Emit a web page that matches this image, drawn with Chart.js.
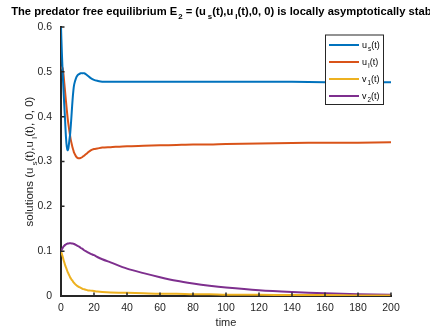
<!DOCTYPE html>
<html><head><meta charset="utf-8">
<script src="https://cdn.jsdelivr.net/npm/chart.js@4/dist/chart.umd.min.js"></script>
<style>html,body{margin:0;padding:0;background:#fff}#wrap{width:430px;height:331px;position:relative}</style>
</head><body><div id="wrap"><canvas id="c" width="430" height="331"></canvas></div>
<script>
const time = [0,0.5,1,1.5,2,2.5,3,3.5,4,4.5,5,5.5,6,6.5,7,7.5,8,9,10,11,12,13,14,15,16,18,20,22,25,30,40,50,60,70,80,90,100,120,140,160,180,200];
const us = [0.600,0.545,0.500,0.460,0.425,0.390,0.355,0.333,0.325,0.330,0.345,0.360,0.383,0.410,0.437,0.458,0.472,0.485,0.492,0.495,0.497,0.497,0.497,0.495,0.492,0.486,0.482,0.480,0.478,0.478,0.478,0.478,0.478,0.478,0.478,0.478,0.478,0.478,0.478,0.477,0.477,0.477];
const uI = [0.506,0.510,0.508,0.495,0.475,0.455,0.435,0.416,0.398,0.383,0.370,0.358,0.347,0.339,0.331,0.325,0.319,0.312,0.308,0.307,0.308,0.310,0.313,0.316,0.319,0.325,0.328,0.329,0.331,0.332,0.334,0.335,0.336,0.337,0.338,0.338,0.339,0.340,0.341,0.342,0.342,0.343];
const v1 = [0.100,0.094,0.088,0.081,0.075,0.069,0.064,0.059,0.054,0.050,0.046,0.042,0.039,0.036,0.034,0.031,0.029,0.025,0.022,0.020,0.018,0.016,0.015,0.014,0.013,0.012,0.011,0.010,0.009,0.008,0.007,0.006,0.005,0.005,0.004,0.004,0.003,0.003,0.002,0.002,0.001,0.001];
const v2 = [0.100,0.104,0.107,0.110,0.112,0.114,0.115,0.116,0.117,0.1172,0.1175,0.1175,0.1175,0.1173,0.117,0.1166,0.116,0.114,0.112,0.110,0.107,0.105,0.102,0.100,0.098,0.094,0.091,0.087,0.082,0.075,0.061,0.051,0.042,0.034,0.028,0.023,0.019,0.013,0.009,0.006,0.004,0.003];
const xTicks = [0,20,40,60,80,100,120,140,160,180,200];
const yTicks = [0,0.1,0.2,0.3,0.4,0.5,0.6];

const FONT = "'Liberation Sans', Arial, Helvetica, sans-serif";
const AX = '#262626';
const toPts = ys => time.map((t,i)=>({x:t,y:ys[i]}));

function richWidth(ctx, segs, size, bold){
  let w=0;
  for(const s of segs){ctx.font=(bold?'bold ':'')+(s.sub?size*0.7:size)+'px '+FONT; w+=ctx.measureText(s.t).width + (s.gap||0);}
  return w;
}
function drawRich(ctx, segs, x, y, size, bold){
  for(const s of segs){
    const fs = s.sub?size*0.7:size;
    ctx.font=(bold?'bold ':'')+fs+'px '+FONT;
    x += (s.gap||0);
    ctx.fillText(s.t, x, y + (s.sub? size*0.35:0));
    x += ctx.measureText(s.t).width;
  }
}

const deco = {
  id:'deco',
  afterDraw(chart){
    const ctx=chart.ctx, xs=chart.scales.x, ys=chart.scales.y, ca=chart.chartArea;
    ctx.save();
    ctx.strokeStyle=AX; ctx.lineWidth=1.5;
    ctx.beginPath();
    for(const v of xTicks){const p=xs.getPixelForValue(v); ctx.moveTo(p,ca.bottom); ctx.lineTo(p,ca.bottom-3.5);}
    for(const v of yTicks){const p=ys.getPixelForValue(v); ctx.moveTo(ca.left,p); ctx.lineTo(ca.left+3.5,p);}
    ctx.stroke();
    ctx.fillStyle='#000'; ctx.textBaseline='alphabetic';
    const tsegs=[{t:'The predator free equilibrium E'},{t:'2',sub:true,gap:1},{t:' = (u'},{t:'s',sub:true,gap:2},{t:'(t),u'},{t:'I',sub:true,gap:2},{t:'(t),0, 0) is locally asymptotically stable'}];
    const tw=richWidth(ctx,tsegs,11.2,true);
    drawRich(ctx,tsegs,(ca.left+ca.right)/2 - tw/2,15,11.2,true);
    ctx.fillStyle=AX;
    const ysegs=[{t:'solutions (u'},{t:'s',sub:true,gap:2},{t:'(t),u'},{t:'I',sub:true,gap:2},{t:'(t), 0, 0)'}];
    const yw=richWidth(ctx,ysegs,11.5,false);
    ctx.translate(33,(ca.top+ca.bottom)/2);
    ctx.rotate(-Math.PI/2);
    drawRich(ctx,ysegs,-yw/2,0,11.5,false);
    ctx.setTransform(1,0,0,1,0,0);
    ctx.font='11px '+FONT; ctx.textAlign='center';
    ctx.fillText('time',(ca.left+ca.right)/2,326);
    ctx.textAlign='left';
    const lx=325, ly=34.5, lw=58, lh=69.5;
    ctx.fillStyle='#fff'; ctx.fillRect(lx,ly,lw,lh);
    ctx.strokeStyle='#262626'; ctx.lineWidth=1; ctx.strokeRect(lx+0.5,ly+0.5,lw,lh);
    const items=[
      {c:'#0072BD',s:[{t:'u'},{t:'s',sub:true,gap:1},{t:'(t)'}]},
      {c:'#D95319',s:[{t:'u'},{t:'I',sub:true,gap:1},{t:'(t)'}]},
      {c:'#EDB120',s:[{t:'v'},{t:'1',sub:true,gap:1},{t:'(t)'}]},
      {c:'#7E2F8E',s:[{t:'v'},{t:'2',sub:true,gap:1},{t:'(t)'}]}
    ];
    items.forEach((it,i)=>{
      const yy=ly+10.5+i*17;
      ctx.strokeStyle=it.c; ctx.lineWidth=2;
      ctx.beginPath(); ctx.moveTo(329,yy); ctx.lineTo(359,yy); ctx.stroke();
      ctx.fillStyle='#000';
      drawRich(ctx,it.s,362,yy+2.5,9,false);
    });
    ctx.restore();
  }
};

const mk=(lab,ys,c)=>({label:lab,data:toPts(ys),borderColor:c,backgroundColor:c,borderWidth:2,pointRadius:0,tension:0.3,fill:false});

new Chart(document.getElementById('c'),{
  type:'line',
  data:{datasets:[mk('us',us,'#0072BD'),mk('uI',uI,'#D95319'),mk('v1',v1,'#EDB120'),mk('v2',v2,'#7E2F8E')]},
  options:{
    responsive:false, animation:false, devicePixelRatio:1,
    layout:{padding:{left:0,top:27,right:39,bottom:0}},
    plugins:{legend:{display:false},tooltip:{enabled:false},title:{display:false}},
    scales:{
      x:{type:'linear',min:0,max:200,
        afterFit(s){s.height=35;},
        afterBuildTicks(s){s.ticks=xTicks.map(v=>({value:v}));},
        grid:{display:false,drawTicks:false},
        border:{display:true,color:AX,width:2},
        ticks:{color:AX,font:{family:FONT,size:10.5},padding:6,maxRotation:0,autoSkip:false}},
      y:{type:'linear',min:0,max:0.6,
        afterFit(s){s.width=61;},
        afterBuildTicks(s){s.ticks=yTicks.map(v=>({value:v}));},
        grid:{display:false,drawTicks:false},
        border:{display:true,color:AX,width:2},
        ticks:{color:AX,font:{family:FONT,size:10.5},padding:9,autoSkip:false,callback:v=>String(v)}}
    }
  },
  plugins:[deco]
});
</script></body></html>
